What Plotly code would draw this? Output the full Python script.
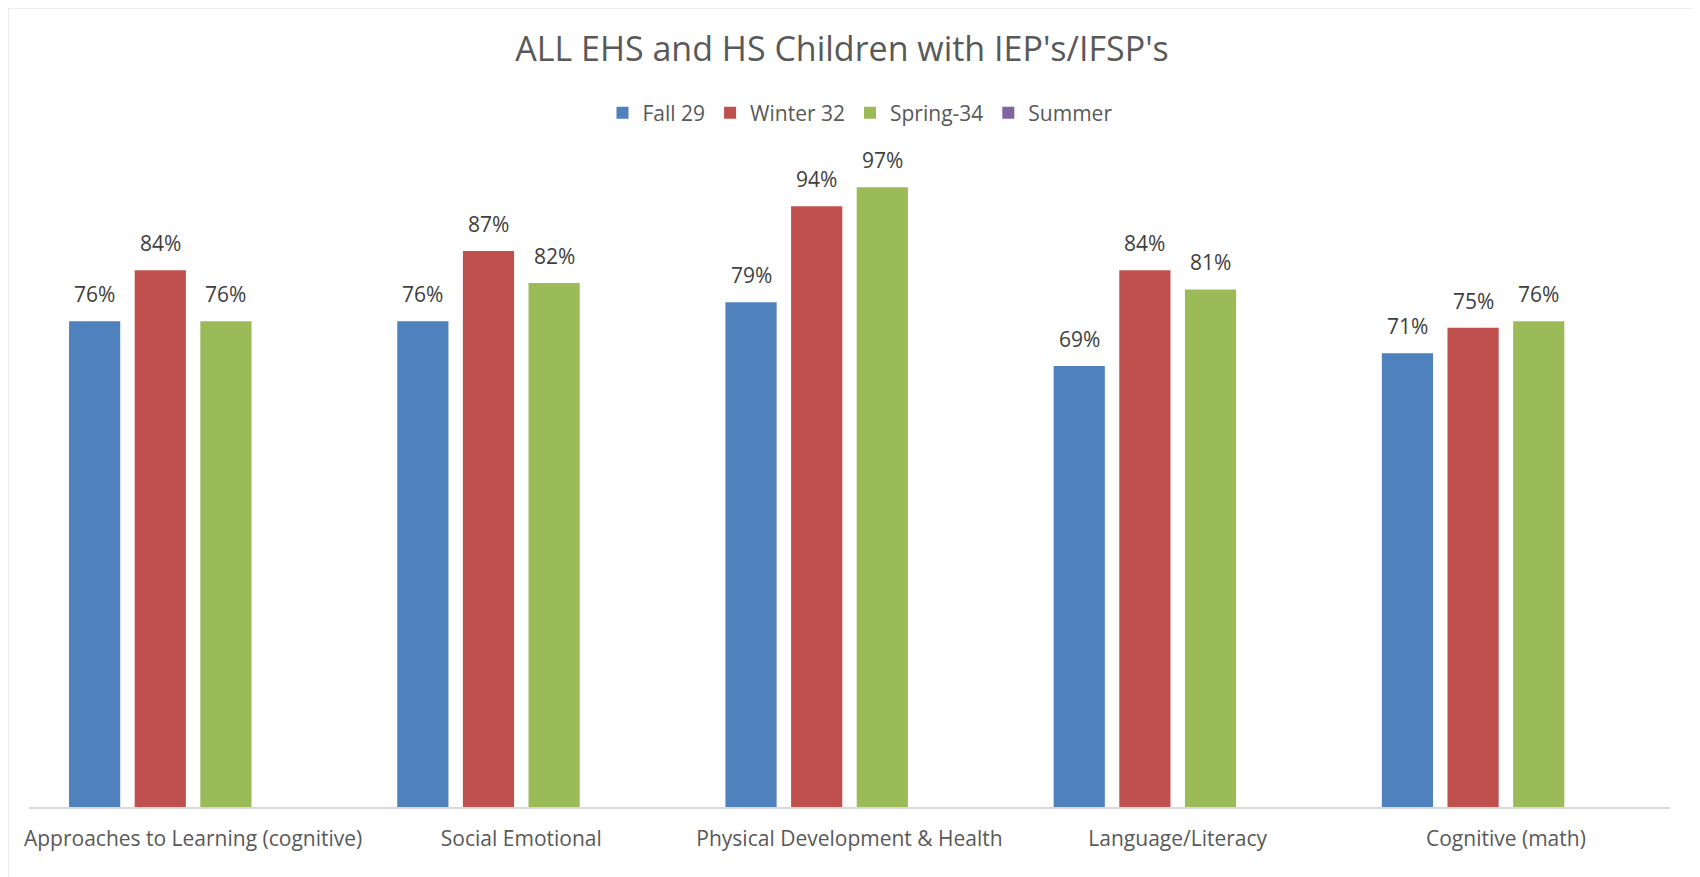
import plotly.graph_objects as go

categories = ["Approaches to Learning (cognitive)", "Social Emotional",
              "Physical Development & Health", "Language/Literacy", "Cognitive (math)"]
series_names = ["Fall 29", "Winter 32", "Spring-34", "Summer"]
fall = [0.76, 0.76, 0.79, 0.69, 0.71]
winter = [0.84, 0.87, 0.94, 0.84, 0.75]
spring = [0.76, 0.82, 0.97, 0.81, 0.76]
summer = [None, None, None, None, None]
colors = ["#4F81BD", "#C0504D", "#9BBB59", "#8064A2"]

FONT = "Open Sans, sans-serif"
BARGAP = 0.2
all_series = [fall, winter, spring, summer]
n_series = len(all_series)

fig = go.Figure()
for name, vals, col in zip(series_names, all_series, colors):
    fig.add_trace(go.Bar(
        x=categories, y=vals, name=name, marker_color=col, marker_line_width=0,
    ))

# data labels placed above each bar via annotations (data coordinates)
slot = (1 - BARGAP) / n_series
for si, vals in enumerate(all_series):
    for ci, v in enumerate(vals):
        if v is None:
            continue
        fig.add_annotation(
            x=ci + (si - (n_series - 1) / 2) * slot, y=v, xref="x", yref="y",
            text=f"{round(v * 100)}%", showarrow=False,
            yanchor="bottom", yshift=11,
            font=dict(family=FONT, size=21, color="#404040"),
        )

fig.update_layout(
    width=1700, height=877,
    margin=dict(l=21, r=38, t=160, b=78),
    paper_bgcolor="white", plot_bgcolor="white",
    barmode="group", bargap=BARGAP, bargroupgap=0.22,
    title=dict(text="ALL EHS and HS Children with IEP's/IFSP's", x=0.4906, xanchor="center",
               y=1 - 41 / 877, yanchor="middle",
               font=dict(family=FONT, size=34, color="#595959")),
    legend=dict(orientation="h", x=0.5064, xanchor="center", y=1 + (160 - 105) / 639, yanchor="middle",
                font=dict(family=FONT, size=21, color="#595959"), traceorder="normal",
                itemwidth=30),
    showlegend=True,
)
fig.update_xaxes(showline=True, linecolor="#D9D9D9", linewidth=2, showgrid=False,
                 ticks="", ticklabelstandoff=12,
                 tickfont=dict(family=FONT, size=21, color="#595959"))
fig.update_yaxes(range=[0, 1], visible=False, showgrid=False, zeroline=False)

fig.add_shape(type="rect", xref="paper", yref="paper",
              x0=-21 / 1641, x1=(1690 - 21) / 1641,
              y0=(799 - 876) / 639, y1=(799 - 0) / 639,
              line=dict(color="#D9D9D9", width=1), layer="below")

fig.write_html("out.html")
